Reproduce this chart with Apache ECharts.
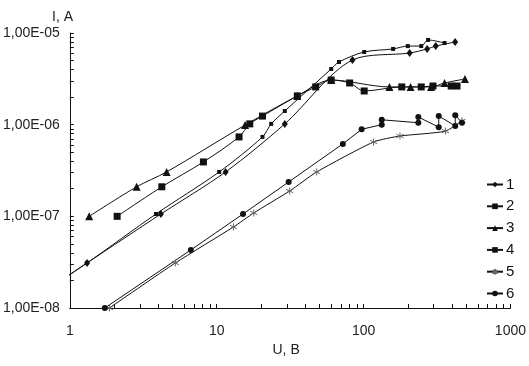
<!DOCTYPE html>
<html>
<head>
<meta charset="utf-8">
<script src="https://cdn.jsdelivr.net/npm/echarts@6/dist/echarts.min.js"></script>
<style>html,body{margin:0;padding:0;background:#fff}#c{width:529px;height:366px}</style>
</head>
<body>
<div id="c"></div>
<script>
// ---- data (U in V, I in A) ----
const seriesNames = ['1', '2', '3', '4', '5', '6'];
const s1U = [0.5, 1.31, 4.17, 11.5, 29.1, 84.1, 206, 271, 310, 420];
const s1I = [1.1e-8, 3.1e-8, 1.06e-7, 3.05e-7, 1.02e-6, 5.08e-6, 6.05e-6, 6.7e-6, 7.2e-6, 7.98e-6];
const s2U = [0.5, 1.31, 3.86, 10.4, 20.5, 23.5, 29.1, 60.2, 68.0, 101, 159, 200, 247, 275, 356];
const s2I = [1.1e-8, 3.1e-8, 1.06e-7, 3.05e-7, 7.35e-7, 1.02e-6, 1.41e-6, 4.05e-6, 4.83e-6, 6.21e-6, 6.7e-6, 7.2e-6, 7.2e-6, 8.4e-6, 7.78e-6];
const s3U = [1.355, 2.85, 4.56, 15.6, 35.4, 60.2, 150, 209, 288, 356, 490];
const s3I = [1.0e-7, 2.1e-7, 3.05e-7, 9.9e-7, 2.06e-6, 3.07e-6, 2.58e-6, 2.58e-6, 2.58e-6, 2.85e-6, 3.15e-6];
const s4U = [2.10, 4.23, 8.12, 14.2, 16.8, 20.5, 35.4, 47.2, 60.2, 80.4, 101, 182, 247, 297, 395, 433];
const s4I = [1.0e-7, 2.1e-7, 3.92e-7, 7.35e-7, 1.02e-6, 1.24e-6, 2.06e-6, 2.58e-6, 3.07e-6, 2.85e-6, 2.33e-6, 2.58e-6, 2.58e-6, 2.64e-6, 2.64e-6, 2.64e-6];
const s5U = [1.86, 5.23, 13.0, 17.9, 31.4, 48, 117, 177, 361, 468];
const s5I = [1.0e-8, 3.1e-8, 7.65e-8, 1.09e-7, 1.89e-7, 3.05e-7, 6.47e-7, 7.52e-7, 8.5e-7, 1.1e-6];
const s6U = [1.73, 6.67, 15.1, 30.9, 72.3, 97, 133, 133, 236, 236, 325, 325, 421, 421, 468];
const s6I = [1.0e-8, 4.3e-8, 1.06e-7, 2.37e-7, 6.17e-7, 8.9e-7, 1.0e-6, 1.13e-6, 1.05e-6, 1.21e-6, 9.4e-7, 1.24e-6, 9.7e-7, 1.27e-6, 1.05e-6];

const xTickValues = [1, 10, 100, 1000];
const xTickLabels = ['1', '10', '100', '1000'];
const yTickValues = [1e-8, 1e-7, 1e-6, 1e-5];
const yTickLabels = ['1,00E-08', '1,00E-07', '1,00E-06', '1,00E-05'];
const xName = 'U, В';
const yName = 'I, A';

// minor tick positions (1..9 per decade)
function decadeTicks(lo, hi) {
  const out = [];
  for (let e = lo; e < hi; e++) {
    for (let m = 1; m <= 9; m++) out.push(m * Math.pow(10, e));
  }
  out.push(Math.pow(10, hi));
  return out;
}
const pair = (u, i) => u.map((v, k) => [v, i[k]]);

const FONT = "'Liberation Sans Narrow', 'Arial Narrow', 'Liberation Sans', Arial, sans-serif";
const starPath = 'path://M5,0L5,10M0.7,2.5L9.3,7.5M0.7,7.5L9.3,2.5';

const lineStyle = { color: '#111', width: 1 };
function mk(name, data, symbol, size, smooth, extra) {
  return Object.assign({
    name, type: 'line', data, symbol, symbolSize: size, smooth, clip: true,
    showAllSymbol: true,
    lineStyle, itemStyle: { color: '#111' }, emphasis: { disabled: true }
  }, extra || {});
}

const chart = echarts.init(document.getElementById('c'), null, { renderer: 'canvas' });
chart.setOption({
  animation: false,
  backgroundColor: '#fff',
  textStyle: { fontFamily: FONT },
  title: {
    text: yName, left: 47, top: 5,
    textStyle: { fontFamily: FONT, fontSize: 14, fontWeight: 'normal', color: '#222' }
  },
  grid: { left: 58, right: 16, top: 33, bottom: 58, containLabel: false },
  legend: {
    orient: 'vertical', left: 481, top: 172, itemGap: 6.8, itemWidth: 16, itemHeight: 7,
    textStyle: { fontFamily: FONT, fontSize: 15, lineHeight: 15, color: '#111', padding: [0, 0, 0, -2] },
    data: seriesNames
  },
  xAxis: {
    type: 'log', logBase: 10, min: 1, max: 1000,
    name: xName, nameLocation: 'middle', nameGap: 35,
    nameTextStyle: { fontFamily: FONT, fontSize: 14, color: '#222', padding: [0, 8, 0, 0] },
    axisLine: { lineStyle: { color: '#111', width: 1 } },
    axisTick: { show: true, inside: true, length: 4, lineStyle: { color: '#111' }, customValues: decadeTicks(0, 3) },
    axisLabel: {
      customValues: xTickValues, margin: 16, fontFamily: FONT, fontSize: 14, color: '#222',
      formatter: v => xTickLabels[xTickValues.findIndex(t => Math.abs(Math.log10(t) - Math.log10(v)) < 1e-6)]
    },
    splitLine: { show: false }, minorSplitLine: { show: false }
  },
  yAxis: {
    type: 'log', logBase: 10, min: 1e-8, max: 1e-5,
    axisLine: { show: true, lineStyle: { color: '#111', width: 1 } },
    axisTick: { show: true, inside: true, length: 4, lineStyle: { color: '#111' }, customValues: decadeTicks(-8, -5) },
    axisLabel: {
      customValues: yTickValues, margin: 10, fontFamily: FONT, fontSize: 14, color: '#222',
      formatter: v => yTickLabels[yTickValues.findIndex(t => Math.abs(Math.log10(t) - Math.log10(v)) < 1e-6)]
    },
    splitLine: { show: false }
  },
  series: [
    mk('1', pair(s1U, s1I), 'diamond', [6, 8], 0.3),
    mk('2', pair(s2U, s2I), 'rect', 4, 0.3),
    mk('3', pair(s3U, s3I), 'triangle', 8, 0.3),
    mk('4', pair(s4U, s4I), 'rect', 7, 0.3),
    mk('5', pair(s5U, s5I), starPath, 7, 0.2, {
      itemStyle: { color: 'none', borderColor: '#666', borderWidth: 1 },
      lineStyle: { color: '#111', width: 1 }
    }),
    mk('6', pair(s6U, s6I), 'circle', 6, false)
  ]
});
</script>
</body>
</html>
